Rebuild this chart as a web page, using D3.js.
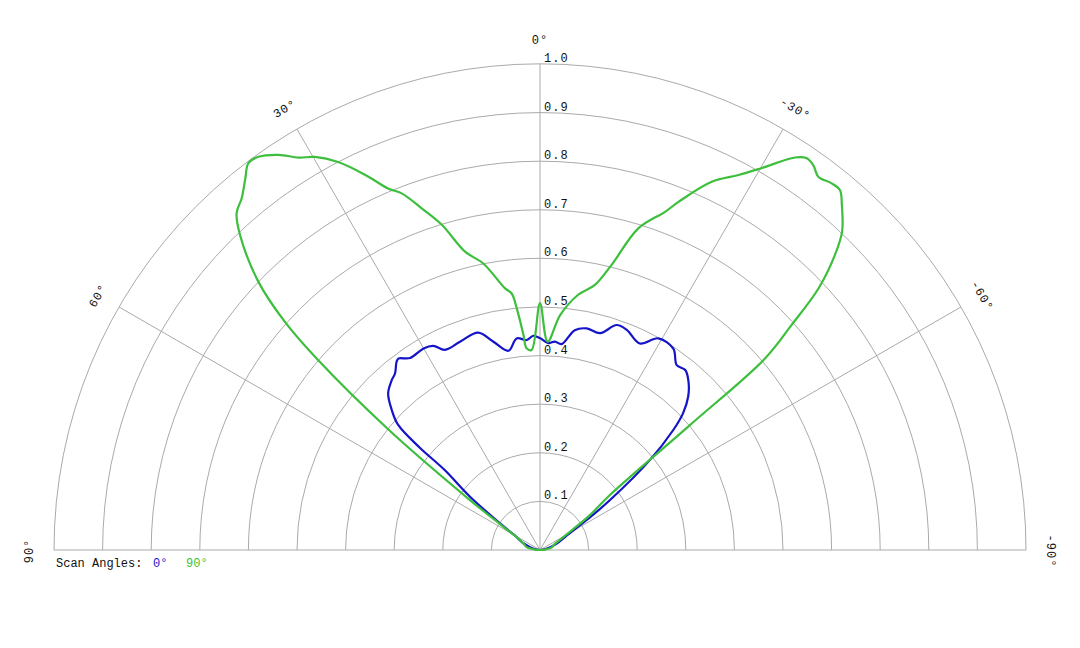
<!DOCTYPE html>
<html>
<head>
<meta charset="utf-8">
<script src="https://cdn.jsdelivr.net/npm/d3@7"></script>
<style>
  body { margin: 0; background: #fff; }
  text { font-family: "Courier New", "Liberation Mono", monospace; font-size: 12px; fill: #111; }
</style>
</head>
<body>
<svg id="polar" width="1080" height="648"></svg>
<script>
// ring values and spoke angles (degrees, + to the left)
var ringValues = [0.1, 0.2, 0.3, 0.4, 0.5, 0.6, 0.7, 0.8, 0.9, 1.0];
var spokeAngles = [90, 60, 30, 0, -30, -60, -90];

// scan 0° (blue)
var scan0Angles = [90, 80, 68, 60, 57, 52.7, 50.0, 49.6, 48.6, 46.6, 44.1, 41.1, 39.4, 37.3, 36.5, 34.1, 30.0, 27.6, 25.4, 21.0, 15.9, 12.6, 9.0, 6.3, 3.6, 1.8, 0,
  -2.3, -4.1, -6.0, -9.0, -11.9, -15.5, -18.8, -21.5, -25.8, -29.2, -33.5, -36.5, -38.9, -41.4, -44.0, -46.3, -48.0, -50.7, -54.5, -57, -62, -70, -80, -90];
var scan0Values = [0, 0.012, 0.037, 0.06, 0.09, 0.181, 0.256, 0.324, 0.389, 0.420, 0.449, 0.464, 0.470, 0.487, 0.490, 0.477, 0.479, 0.474, 0.456, 0.459, 0.465, 0.439, 0.415, 0.438, 0.433, 0.441, 0.436,
  0.426, 0.430, 0.426, 0.458, 0.466, 0.463, 0.489, 0.487, 0.472, 0.499, 0.497, 0.473, 0.476, 0.462, 0.439, 0.407, 0.369, 0.292, 0.177, 0.12, 0.06, 0.035, 0.012, 0];

// scan 90° (green)
var scan90Angles = [90, 85, 78, 68, 62, 57.6, 54.5, 51.5, 49.4, 48.2, 46.4, 43.6, 42.0, 40.3, 38.4, 37.0, 35.6, 33.5, 31.6, 29.8, 27.5, 25.0, 22.8, 21.2, 19.1, 16.8, 14.1, 11.2, 7.6, 6.3, 5.5, 4.4, 3.8, 2.4, 0,
  -2.1, -4.9, -8.5, -11.7, -14.1, -17.0, -20.3, -21.7, -25.0, -27.9, -30.1, -33.0, -34.2, -35.4, -36.7, -38.5, -39.8, -41.2, -43.5, -45.0, -46.8, -48.2, -49.6, -50.2, -51.8, -55, -58, -63, -70, -78, -85, -90];
var scan90Values = [0, 0.01, 0.028, 0.037, 0.05, 0.089, 0.177, 0.40, 0.606, 0.704, 0.800, 0.895, 0.933, 0.949, 0.976, 0.997, 0.995, 0.975, 0.948, 0.932, 0.900, 0.852, 0.807, 0.787, 0.744, 0.699, 0.633, 0.601, 0.543, 0.531, 0.50, 0.444, 0.416, 0.412, 0.508,
  0.429, 0.485, 0.531, 0.557, 0.605, 0.692, 0.742, 0.771, 0.836, 0.873, 0.908, 0.963, 0.975, 0.971, 0.958, 0.964, 0.964, 0.943, 0.903, 0.858, 0.786, 0.694, 0.608, 0.40, 0.183, 0.126, 0.08, 0.046, 0.03, 0.025, 0.01, 0];

var legendLabels = ["0°", "90°"];
var seriesColors = ["#1414c8", "#3dbf3d"];

const svg = d3.select("#polar");
const cx = 540, cy = 550, outerR = 486;
const g = svg.append("g").attr("transform", "translate(" + cx + "," + cy + ")");

const r = d3.scaleLinear().domain([0, 1]).range([0, outerR]);
const rad = d => -d * Math.PI / 180; // lineRadial angle: clockwise from top

// rings
ringValues.forEach(v => {
  const p = d3.path();
  p.moveTo(-r(v), 0);
  p.arc(0, 0, r(v), Math.PI, 2 * Math.PI);
  g.append("path").attr("d", p.toString())
    .attr("fill", "none").attr("stroke", "#aaa").attr("stroke-width", 1);
});

// spokes
spokeAngles.forEach(a => {
  g.append("line")
    .attr("x1", 0).attr("y1", 0)
    .attr("x2", r(1) * Math.sin(rad(a))).attr("y2", -r(1) * Math.cos(rad(a)))
    .attr("stroke", "#aaa").attr("stroke-width", 1);
});

// ring labels
g.selectAll(".ringLabel").data(ringValues).enter().append("text")
  .attr("x", 4).attr("y", d => -r(d) - 2)
  .style("letter-spacing", "1px")
  .text(d3.format(".1f"));

// angle labels
const labelR = 510;
g.selectAll(".angLabel").data(spokeAngles).enter().append("text")
  .attr("text-anchor", "middle").attr("dominant-baseline", "middle")
  .style("letter-spacing", "1px")
  .attr("transform", d => {
    const x = labelR * Math.sin(rad(d)), y = -labelR * Math.cos(rad(d)) + 1;
    return "translate(" + x + "," + y + ") rotate(" + (-d) + ")";
  })
  .text(d => d + "°");

// series
const line = d3.lineRadial()
  .angle(d => rad(d[0]))
  .radius(d => r(d[1]))
  .curve(d3.curveCatmullRom.alpha(0.5));

const series = [d3.zip(scan0Angles, scan0Values), d3.zip(scan90Angles, scan90Values)];
series.forEach((s, i) => {
  g.append("path").attr("d", line(s))
    .attr("fill", "none").attr("stroke", seriesColors[i]).attr("stroke-width", 2.2)
    .attr("stroke-linejoin", "round");
});

// legend
svg.append("text").attr("x", 56).attr("y", 567).text("Scan Angles:");
svg.append("text").attr("x", 153).attr("y", 567).style("fill", seriesColors[0]).text(legendLabels[0]);
svg.append("text").attr("x", 186).attr("y", 567).style("fill", seriesColors[1]).text(legendLabels[1]);
</script>
</body>
</html>
